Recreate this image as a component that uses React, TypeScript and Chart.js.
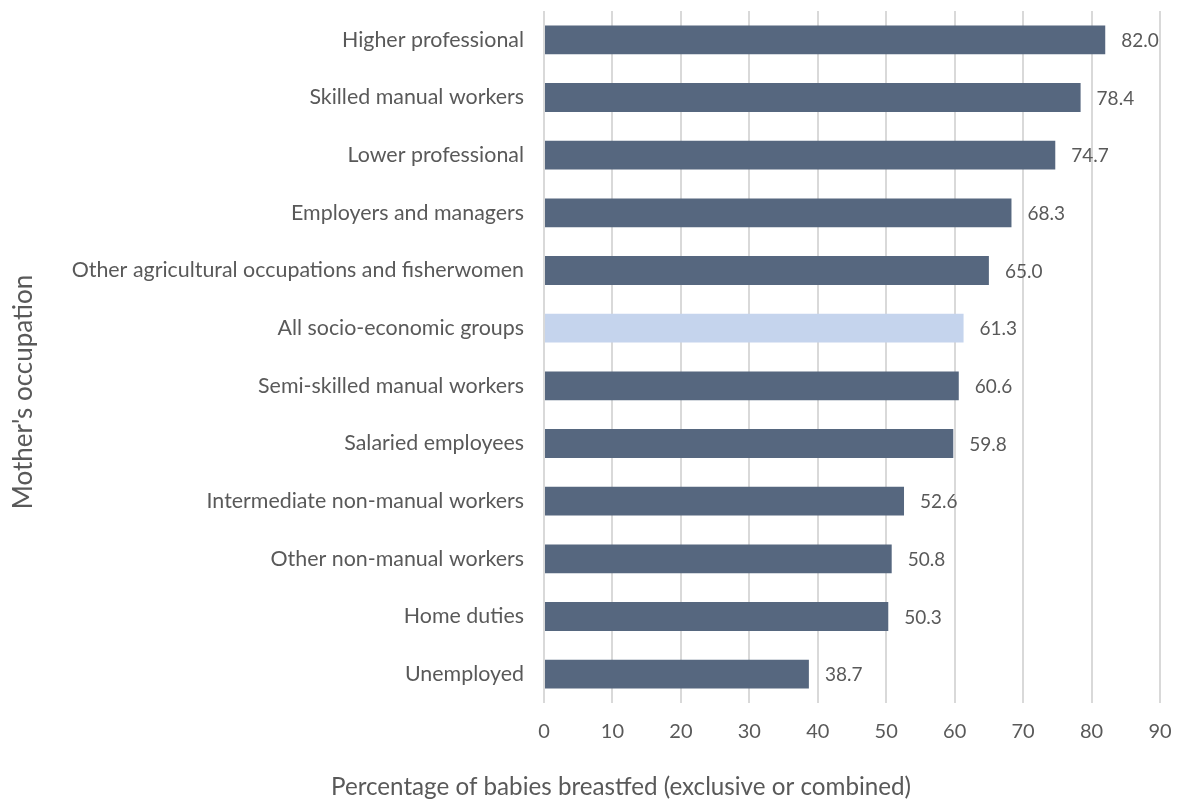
import React, { useEffect, useRef } from "react";
import { Chart, registerables } from "chart.js";

Chart.register(...registerables);

const categories = [
  "Higher professional",
  "Skilled manual workers",
  "Lower professional",
  "Employers and managers",
  "Other agricultural occupations and fisherwomen",
  "All socio-economic groups",
  "Semi-skilled manual workers",
  "Salaried employees",
  "Intermediate non-manual workers",
  "Other non-manual workers",
  "Home duties",
  "Unemployed",
];
const values = [82.0, 78.4, 74.7, 68.3, 65.0, 61.3, 60.6, 59.8, 52.6, 50.8, 50.3, 38.7];
const highlightCategory = "All socio-economic groups";
const xTicks = [0, 10, 20, 30, 40, 50, 60, 70, 80, 90];
const xTitle = "Percentage of babies breastfed (exclusive or combined)";
const yTitle = "Mother's occupation";

const DARK = "#56677F";
const LIGHT = "#C5D4ED";
const TEXT = "#595959";
const FONT = "Lato, 'Open Sans', sans-serif";

export default function App() {
  const ref = useRef<HTMLCanvasElement | null>(null);
  useEffect(() => {
    document.body.style.margin = "0";
    const canvas = ref.current!;
    const labelsPlugin = {
      id: "extras",
      afterDatasetsDraw(chart: any) {
        const ctx = chart.ctx;
        const meta = chart.getDatasetMeta(0);
        ctx.save();
        ctx.fillStyle = TEXT;
        ctx.font = `19px ${FONT}`;
        ctx.textAlign = "left";
        ctx.textBaseline = "middle";
        meta.data.forEach((bar: any, i: number) => {
          ctx.fillText(values[i].toFixed(1), bar.x + 16, bar.y + 1);
        });
        ctx.restore();
      },
      afterDraw(chart: any) {
        const ctx = chart.ctx;
        ctx.save();
        ctx.fillStyle = TEXT;
        ctx.font = `24.2px ${FONT}`;
        ctx.textAlign = "center";
        ctx.textBaseline = "middle";
        ctx.fillText(xTitle, 621, 787);
        ctx.font = `26px ${FONT}`;
        ctx.translate(24, 392);
        ctx.rotate(-Math.PI / 2);
        ctx.fillText(yTitle, 0, 0);
        ctx.restore();
      },
    };
    const chart = new Chart(canvas, {
      type: "bar",
      data: {
        labels: categories,
        datasets: [
          {
            data: values,
            backgroundColor: categories.map((c) => (c === highlightCategory ? LIGHT : DARK)),
            borderWidth: 0,
            barPercentage: 0.5,
            categoryPercentage: 1,
          },
        ],
      },
      options: {
        indexAxis: "y",
        animation: false,
        responsive: false,
        maintainAspectRatio: false,
        layout: { padding: { top: 11, right: 21, left: 0, bottom: 0 } },
        plugins: {
          legend: { display: false },
          tooltip: { enabled: false },
        },
        scales: {
          x: {
            min: 0,
            max: 90,
            afterBuildTicks(scale: any) {
              scale.ticks = xTicks.map((v) => ({ value: v }));
            },
            afterFit(scale: any) {
              scale.height = 100;
              scale.paddingLeft = 0;
              scale.paddingRight = 0;
            },
            grid: { color: "#D9D9D9", lineWidth: 2, drawTicks: false },
            border: { display: false },
            ticks: {
              color: TEXT,
              font: { family: FONT, size: 20 },
              padding: 17,
            },
          },
          y: {
            afterFit(scale: any) {
              scale.width = 544;
              scale.paddingTop = 0;
              scale.paddingBottom = 0;
            },
            grid: { display: false, drawTicks: false },
            border: { display: false },
            ticks: {
              color: TEXT,
              font: { family: FONT, size: 21.4 },
              padding: 20,
            },
          },
        },
      },
      plugins: [labelsPlugin],
    });
    return () => chart.destroy();
  }, []);
  return (
    <div style={{ width: 1181, height: 803 }}>
      <canvas ref={ref} width={1181} height={803} />
    </div>
  );
}
